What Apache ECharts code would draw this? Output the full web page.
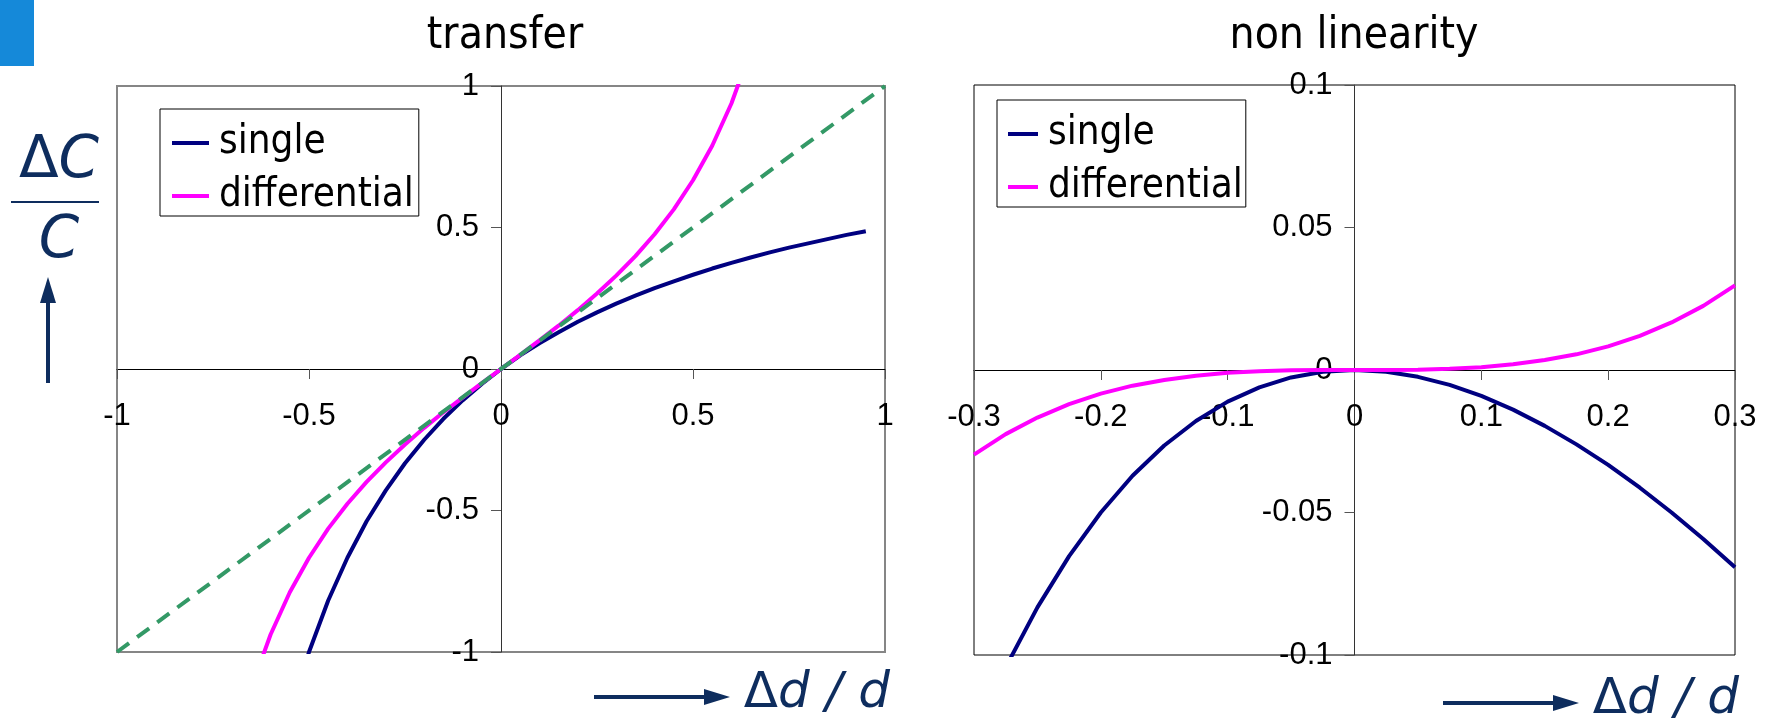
<!DOCTYPE html>
<html>
<head>
<meta charset="utf-8">
<title>transfer / non linearity</title>
<script src="https://cdn.jsdelivr.net/npm/echarts@6/dist/echarts.min.js"></script>
<style>
  html, body { margin: 0; padding: 0; background: #fff; }
  #main { width: 1767px; height: 719px; }
</style>
</head>
<body>
<div id="main"></div>
<script>
// transfer: dC/C against dd/d
var transferX = [-0.65, -0.6, -0.55, -0.5, -0.45, -0.4, -0.35, -0.3, -0.25, -0.2, -0.15, -0.1, -0.05, 0,
    0.05, 0.1, 0.15, 0.2, 0.25, 0.3, 0.35, 0.4, 0.45, 0.5, 0.55, 0.6, 0.65, 0.7, 0.75, 0.8, 0.85, 0.9, 0.95];
var singleTransfer = [null, null, -1.222, -1, -0.818, -0.667, -0.538, -0.429, -0.333, -0.25, -0.176, -0.111, -0.053, 0,
    0.048, 0.091, 0.13, 0.167, 0.2, 0.231, 0.259, 0.286, 0.31, 0.333, 0.355, 0.375, 0.394, 0.412, 0.429, 0.444, 0.459, 0.474, 0.487];
var diffTransfer = [-1.126, -0.938, -0.789, -0.667, -0.564, -0.476, -0.399, -0.33, -0.267, -0.208, -0.153, -0.101, -0.05, 0,
    0.05, 0.101, 0.153, 0.208, 0.267, 0.33, 0.399, 0.476, 0.564, 0.667, 0.789, 0.938, 1.126, null, null, null, null, null, null];
var idealX = [-1, 1];
var idealY = [-1, 1];

// non linearity
var nonlinX = [-0.3, -0.275, -0.25, -0.225, -0.2, -0.175, -0.15, -0.125, -0.1, -0.075, -0.05, -0.025, 0,
    0.025, 0.05, 0.075, 0.1, 0.125, 0.15, 0.175, 0.2, 0.225, 0.25, 0.275, 0.3];
var singleNonlin = [-0.1286, -0.1043, -0.0833, -0.0653, -0.05, -0.0371, -0.0265, -0.0179, -0.0111, -0.0061, -0.0026, -0.0006, 0,
    -0.0006, -0.0024, -0.0052, -0.0091, -0.0139, -0.0196, -0.0261, -0.0333, -0.0413, -0.05, -0.0593, -0.0692];
var diffNonlin = [-0.0297, -0.0225, -0.0167, -0.012, -0.0083, -0.0055, -0.0035, -0.002, -0.001, -0.0004, -0.0001, 0, 0,
    0, 0.0001, 0.0004, 0.001, 0.002, 0.0035, 0.0055, 0.0083, 0.012, 0.0167, 0.0225, 0.0297];

var seriesNames = ['single', 'differential'];
var titles = ['transfer', 'non linearity'];

var NAVY = '#000080';
var PINK = '#ff00ff';
var GREEN = '#339966';
var INK = '#0e2d5e';
var LABEL_FONT = '"Liberation Sans", Arial, sans-serif';
var TEXT_FONT = '"DejaVu Sans Condensed", "Liberation Sans Narrow", "DejaVu Sans", sans-serif';

function pairs(xs, ys) {
    var out = [];
    for (var i = 0; i < xs.length; i++) out.push([xs[i], ys[i]]);
    return out;
}

// axes sit in the middle of the box (range is symmetric), so push them inward with offset
function valueAxis(gridIndex, min, max, step, isX, lineColor, offset) {
    return {
        type: 'value',
        gridIndex: gridIndex,
        position: isX ? 'bottom' : 'left',
        offset: offset,
        min: min,
        max: max,
        interval: step,
        splitLine: { show: false },
        axisLine: { show: true, onZero: false, lineStyle: { color: lineColor, width: 1 } },
        axisTick: { show: true, length: 10, lineStyle: { color: '#555', width: 1 } },
        axisLabel: {
            show: true,
            showMinLabel: true,
            showMaxLabel: true,
            hideOverlap: false,
            margin: isX ? 32 : 22,
            fontSize: 31,
            fontFamily: LABEL_FONT,
            color: '#000'
        }
    };
}

function lineSeries(name, x, y, data, color) {
    return {
        name: name,
        type: 'line',
        xAxisIndex: x,
        yAxisIndex: y,
        data: data,
        color: color,
        showSymbol: false,
        symbol: 'none',
        clip: true,
        lineStyle: { color: color, width: 4 },
        animation: false
    };
}

function legendBox(left, top, itemWidth, pad) {
    return {
        orient: 'vertical',
        left: left,
        top: top,
        data: seriesNames,
        icon: 'rect',
        itemWidth: itemWidth,
        itemHeight: 4,
        itemGap: 13,
        padding: pad,
        borderColor: '#000',
        borderWidth: 1,
        selectedMode: false,
        textStyle: { fontSize: 40, fontFamily: TEXT_FONT, color: '#000', padding: [0, 0, 0, 5] }
    };
}

function axisTitle(x, y) {
    // arrow + "Δd/d"
    return [
        { type: 'line', shape: { x1: x, y1: y, x2: x + 112, y2: y }, style: { stroke: INK, lineWidth: 4 } },
        { type: 'polygon', shape: { points: [[x + 110, y - 8], [x + 136, y], [x + 110, y + 8]] }, style: { fill: INK } },
        {
            type: 'text', x: x + 296, y: y - 3,
            style: {
                text: '{a|Δ}{b|d / d}',
                align: 'right', verticalAlign: 'middle',
                rich: {
                    a: { fontSize: 50, fontFamily: '"DejaVu Sans", sans-serif', fill: INK },
                    b: { fontSize: 50, fontFamily: '"DejaVu Sans", sans-serif', fontStyle: 'italic', fill: INK }
                }
            }
        }
    ];
}

var chart = echarts.init(document.getElementById('main'));

var graphics = [
    { type: 'rect', shape: { x: 0, y: 0, width: 34, height: 66 }, style: { fill: '#1589d9' } },
    { type: 'text', x: 505, y: 37, style: { text: titles[0], align: 'center', verticalAlign: 'middle', fontSize: 44, fontFamily: TEXT_FONT, fill: '#000' } },
    { type: 'text', x: 1354, y: 37, style: { text: titles[1], align: 'center', verticalAlign: 'middle', fontSize: 44, fontFamily: TEXT_FONT, fill: '#000' } },
    // dC / C with upward arrow
    {
        type: 'text', x: 59, y: 162,
        style: {
            text: '{a|Δ}{b|C}', align: 'center', verticalAlign: 'middle',
            rich: {
                a: { fontSize: 58, fontFamily: '"DejaVu Sans", sans-serif', fill: INK },
                b: { fontSize: 58, fontFamily: '"DejaVu Sans", sans-serif', fontStyle: 'italic', fill: INK }
            }
        }
    },
    { type: 'line', shape: { x1: 11, y1: 202, x2: 99, y2: 202 }, style: { stroke: INK, lineWidth: 2 } },
    {
        type: 'text', x: 59, y: 242,
        style: { text: 'C', align: 'center', verticalAlign: 'middle', fontSize: 58, fontFamily: '"DejaVu Sans", sans-serif', fontStyle: 'italic', fill: INK }
    },
    { type: 'line', shape: { x1: 48, y1: 300, x2: 48, y2: 383 }, style: { stroke: INK, lineWidth: 4 } },
    { type: 'polygon', shape: { points: [[40, 303], [48, 277], [56, 303]] }, style: { fill: INK } }
].concat(axisTitle(594, 697)).concat(axisTitle(1443, 703));

var option = {
    backgroundColor: '#fff',
    animation: false,
    grid: [
        { left: 117, top: 86, width: 768, height: 566, show: true, borderColor: '#868686', borderWidth: 2, backgroundColor: '#fff', outerBoundsMode: 'none' },
        { left: 974, top: 85, width: 761, height: 570, show: true, borderColor: '#000', borderWidth: 1, backgroundColor: '#fff', outerBoundsMode: 'none' }
    ],
    xAxis: [
        valueAxis(0, -1, 1, 0.5, true, '#000', -283),
        valueAxis(1, -0.3, 0.3, 0.1, true, '#000', -285)
    ],
    yAxis: [
        valueAxis(0, -1, 1, 0.5, false, '#333', -384),
        valueAxis(1, -0.1, 0.1, 0.05, false, '#333', -380.5)
    ],
    legend: [
        legendBox(160, 109, 37, [14, 5, 0, 12]),
        legendBox(997, 100, 30, [14, 3, 0, 11])
    ],
    series: [
        lineSeries(seriesNames[0], 0, 0, pairs(transferX, singleTransfer), NAVY),
        lineSeries(seriesNames[1], 0, 0, pairs(transferX, diffTransfer), PINK),
        {
            name: 'ideal',
            type: 'line',
            xAxisIndex: 0,
            yAxisIndex: 0,
            data: pairs(idealX, idealY),
            showSymbol: false,
            symbol: 'none',
            lineStyle: { color: GREEN, width: 4, type: [15, 10] },
            color: GREEN
        },
        lineSeries(seriesNames[0], 1, 1, pairs(nonlinX, singleNonlin), NAVY),
        lineSeries(seriesNames[1], 1, 1, pairs(nonlinX, diffNonlin), PINK)
    ],
    graphic: graphics
};

chart.setOption(option);
</script>
</body>
</html>
